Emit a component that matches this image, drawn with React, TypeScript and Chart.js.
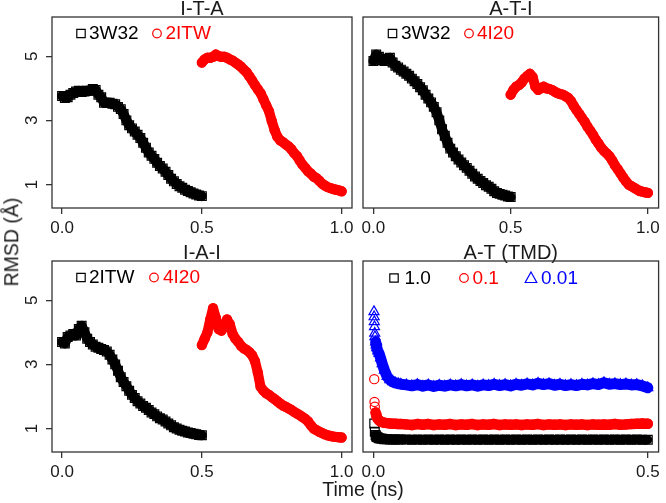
import React, { useEffect, useRef } from 'react';
import { Chart, registerables } from 'chart.js';

Chart.register(...registerables);

const FONT = '"Liberation Sans", Arial, Helvetica, sans-serif';
const W = 666;
const H = 503;

// ---------- data ----------
const tFirst = [0.00, 0.01, 0.02, 0.03, 0.04, 0.05, 0.06, 0.07, 0.08, 0.09, 0.10, 0.11, 0.12, 0.13, 0.14, 0.15, 0.16, 0.17, 0.18, 0.19, 0.20, 0.21, 0.22, 0.23, 0.24, 0.25, 0.26, 0.27, 0.28, 0.29, 0.30, 0.31, 0.32, 0.33, 0.34, 0.35, 0.36, 0.37, 0.38, 0.39, 0.40, 0.41, 0.42, 0.43, 0.44, 0.45, 0.46, 0.47, 0.48, 0.49, 0.50];
const tSecond = [0.50, 0.51, 0.52, 0.53, 0.54, 0.55, 0.56, 0.57, 0.58, 0.59, 0.60, 0.61, 0.62, 0.63, 0.64, 0.65, 0.66, 0.67, 0.68, 0.69, 0.70, 0.71, 0.72, 0.73, 0.74, 0.75, 0.76, 0.77, 0.78, 0.79, 0.80, 0.81, 0.82, 0.83, 0.84, 0.85, 0.86, 0.87, 0.88, 0.89, 0.90, 0.91, 0.92, 0.93, 0.94, 0.95, 0.96, 0.97, 0.98, 0.99, 1.00];

// I-T-A
const itaBlack3W32 = [3.76, 3.70, 3.72, 3.80, 3.85, 3.90, 3.92, 3.88, 3.90, 3.92, 3.92, 3.98, 3.95, 3.80, 3.72, 3.55, 3.55, 3.55, 3.52, 3.50, 3.42, 3.35, 3.20, 3.00, 2.85, 2.75, 2.65, 2.55, 2.45, 2.30, 2.15, 2.00, 1.90, 1.80, 1.68, 1.58, 1.50, 1.40, 1.30, 1.18, 1.10, 1.02, 0.95, 0.90, 0.84, 0.80, 0.76, 0.72, 0.69, 0.66, 0.64];
const itaRed2ITW = [4.80, 4.90, 4.95, 4.95, 4.98, 5.05, 5.00, 4.98, 4.98, 4.95, 4.90, 4.86, 4.80, 4.74, 4.67, 4.58, 4.50, 4.37, 4.24, 4.10, 3.97, 3.85, 3.66, 3.47, 3.29, 2.98, 2.70, 2.49, 2.38, 2.32, 2.25, 2.19, 2.10, 1.98, 1.89, 1.75, 1.62, 1.52, 1.41, 1.34, 1.25, 1.20, 1.12, 1.03, 0.97, 0.92, 0.89, 0.86, 0.84, 0.82, 0.79];

// A-T-I
const atiBlack3W32 = [4.85, 5.05, 4.98, 4.88, 4.85, 4.92, 4.95, 4.80, 4.70, 4.65, 4.58, 4.52, 4.45, 4.39, 4.30, 4.22, 4.13, 4.03, 3.94, 3.80, 3.68, 3.56, 3.42, 3.25, 3.00, 2.72, 2.52, 2.30, 2.12, 2.00, 1.88, 1.78, 1.69, 1.60, 1.52, 1.43, 1.34, 1.25, 1.18, 1.11, 1.05, 0.98, 0.93, 0.87, 0.79, 0.74, 0.71, 0.68, 0.66, 0.63, 0.61];
const atiRed4I20 = [3.80, 3.95, 4.05, 4.10, 4.18, 4.30, 4.38, 4.45, 4.35, 4.05, 3.95, 4.00, 4.05, 4.00, 3.98, 3.95, 3.90, 3.85, 3.82, 3.80, 3.75, 3.70, 3.60, 3.45, 3.32, 3.20, 3.07, 2.95, 2.80, 2.68, 2.55, 2.40, 2.28, 2.15, 2.05, 1.97, 1.88, 1.75, 1.60, 1.48, 1.35, 1.22, 1.10, 1.00, 0.95, 0.90, 0.85, 0.80, 0.78, 0.76, 0.74];

// I-A-I
const iaiBlack2ITW = [3.70, 3.65, 3.85, 3.90, 3.95, 3.90, 4.10, 4.20, 4.00, 3.80, 3.70, 3.62, 3.55, 3.52, 3.48, 3.45, 3.40, 3.30, 3.15, 3.00, 2.80, 2.60, 2.45, 2.32, 2.18, 2.05, 1.95, 1.85, 1.78, 1.70, 1.65, 1.58, 1.50, 1.45, 1.38, 1.32, 1.28, 1.22, 1.16, 1.10, 1.04, 1.00, 0.96, 0.93, 0.91, 0.88, 0.86, 0.84, 0.82, 0.80, 0.79];
const iaiRed4I20 = [3.60, 3.80, 4.00, 4.40, 4.75, 4.45, 4.10, 4.05, 4.20, 4.40, 4.25, 3.95, 3.80, 3.70, 3.58, 3.50, 3.45, 3.38, 3.28, 3.10, 2.75, 2.30, 2.18, 2.10, 2.05, 1.98, 1.92, 1.85, 1.78, 1.72, 1.68, 1.63, 1.58, 1.52, 1.47, 1.42, 1.36, 1.30, 1.22, 1.10, 1.00, 0.95, 0.90, 0.86, 0.82, 0.79, 0.77, 0.75, 0.74, 0.73, 0.72];

// A-T (TMD)
const tTmd = [0.004, 0.005, 0.006, 0.008, 0.010, 0.013, 0.016, 0.020, 0.025, 0.030, 0.035, 0.040, 0.045, 0.050, 0.06, 0.07, 0.08, 0.09, 0.10, 0.11, 0.12, 0.13, 0.14, 0.15, 0.16, 0.17, 0.18, 0.19, 0.20, 0.21, 0.22, 0.23, 0.24, 0.25, 0.26, 0.27, 0.28, 0.29, 0.30, 0.31, 0.32, 0.33, 0.34, 0.35, 0.36, 0.37, 0.38, 0.39, 0.40, 0.41, 0.42, 0.43, 0.44, 0.45, 0.46, 0.47, 0.48, 0.49, 0.50];
const tmdBlack10 = [0.80, 0.76, 0.74, 0.72, 0.70, 0.69, 0.68, 0.67, 0.67, 0.66, 0.66, 0.66, 0.66, 0.66, 0.66, 0.65, 0.66, 0.65, 0.66, 0.65, 0.66, 0.65, 0.66, 0.65, 0.66, 0.65, 0.66, 0.65, 0.66, 0.65, 0.66, 0.65, 0.66, 0.65, 0.66, 0.65, 0.66, 0.65, 0.66, 0.65, 0.66, 0.65, 0.66, 0.65, 0.66, 0.65, 0.66, 0.65, 0.66, 0.65, 0.66, 0.65, 0.66, 0.65, 0.66, 0.65, 0.66, 0.65, 0.65];
const tmdRed01 = [1.50, 1.42, 1.36, 1.30, 1.26, 1.22, 1.20, 1.18, 1.17, 1.16, 1.15, 1.15, 1.14, 1.14, 1.13, 1.11, 1.14, 1.12, 1.14, 1.11, 1.13, 1.12, 1.14, 1.11, 1.13, 1.12, 1.14, 1.11, 1.13, 1.12, 1.14, 1.11, 1.13, 1.12, 1.13, 1.11, 1.13, 1.12, 1.14, 1.11, 1.13, 1.12, 1.13, 1.11, 1.13, 1.12, 1.13, 1.11, 1.13, 1.12, 1.13, 1.12, 1.14, 1.12, 1.13, 1.14, 1.15, 1.16, 1.15];
const tmdBlue001 = [3.70, 3.60, 3.52, 3.42, 3.35, 3.20, 3.02, 2.82, 2.62, 2.52, 2.46, 2.42, 2.40, 2.38, 2.36, 2.33, 2.37, 2.32, 2.36, 2.31, 2.35, 2.32, 2.36, 2.33, 2.37, 2.33, 2.36, 2.32, 2.36, 2.34, 2.38, 2.34, 2.37, 2.33, 2.38, 2.35, 2.39, 2.36, 2.41, 2.37, 2.40, 2.35, 2.38, 2.34, 2.37, 2.34, 2.38, 2.36, 2.40, 2.37, 2.43, 2.38, 2.40, 2.37, 2.39, 2.36, 2.37, 2.33, 2.27];
// first frames (isolated markers at t ~ 0)
const tmdBlackStartT = [0.0015, 0.0025];
const tmdBlackStartV = [1.16, 0.90];
const tmdRedStartT = [0.0015, 0.002, 0.0025];
const tmdRedStartV = [2.54, 1.83, 1.68];
const tmdBlueStartT = [0.001, 0.0013, 0.0016, 0.002, 0.0024, 0.0028];
const tmdBlueStartV = [4.64, 4.48, 4.33, 4.17, 3.97, 3.86];

// ticks
const xTicksFull = [0, 0.5, 1.0];
const xTickLabelsFull = ['0.0', '0.5', '1.0'];
const xTicksHalf = [0, 0.5];
const xTickLabelsHalf = ['0.0', '0.5'];
const yTicks = [1, 3, 5];
const yTickLabels = ['1', '3', '5'];

// ---------- styling ----------
const BLACK = '#000000';
const RED = '#ff0000';
const BLUE = '#0000ff';
const TEXT = '#1a1a1a';
const AXIS = '#333333';
const YW = 45; // y-axis band width
const XH = 40; // x-axis band height
const TITLE_H = 16;

type Mark = 'rect' | 'circle' | 'triangle';
const markRadius: Record<Mark, number> = { rect: 6.2, circle: 4.6, triangle: 5.8 };

interface SeriesCfg {
  t: number[];
  v: number[];
  color: string;
  mark: Mark;
  line: boolean;
  width: number;
}
interface LegendItem { label: string; color: string; mark: Mark; dx: number; gap: number }
interface PanelCfg {
  title: string;
  box: { l: number; t: number; r: number; b: number };
  xMin: number;
  xMax: number;
  xTicks: number[];
  xLabels: string[];
  showY: boolean;
  series: SeriesCfg[];
  legend: LegendItem[];
  legendDy: number;
}

const Y_MIN = 0.27;
const Y_MAX = 6.22;

const panels: PanelCfg[] = [
  {
    title: 'I-T-A',
    box: { l: 52, t: 17, r: 352, b: 208 },
    xMin: -0.036, xMax: 1.037, xTicks: xTicksFull, xLabels: xTickLabelsFull, showY: true,
    series: [
      { t: tFirst, v: itaBlack3W32, color: BLACK, mark: 'rect', line: true, width: 10 },
      { t: tSecond, v: itaRed2ITW, color: RED, mark: 'circle', line: true, width: 10 },
    ],
    legend: [
      { label: '3W32', color: BLACK, mark: 'rect', dx: 29, gap: 8 },
      { label: '2ITW', color: RED, mark: 'circle', dx: 105, gap: 8.5 },
    ],
    legendDy: 16,
  },
  {
    title: 'A-T-I',
    box: { l: 363, t: 17, r: 664, b: 208 },
    xMin: -0.038, xMax: 1.039, xTicks: xTicksFull, xLabels: xTickLabelsFull, showY: false,
    series: [
      { t: tFirst, v: atiBlack3W32, color: BLACK, mark: 'rect', line: true, width: 10 },
      { t: tSecond, v: atiRed4I20, color: RED, mark: 'circle', line: true, width: 10 },
    ],
    legend: [
      { label: '3W32', color: BLACK, mark: 'rect', dx: 29.5, gap: 8.5 },
      { label: '4I20', color: RED, mark: 'circle', dx: 106, gap: 8 },
    ],
    legendDy: 16,
  },
  {
    title: 'I-A-I',
    box: { l: 52, t: 261, r: 352, b: 452 },
    xMin: -0.036, xMax: 1.037, xTicks: xTicksFull, xLabels: xTickLabelsFull, showY: true,
    series: [
      { t: tFirst, v: iaiBlack2ITW, color: BLACK, mark: 'rect', line: true, width: 10 },
      { t: tSecond, v: iaiRed4I20, color: RED, mark: 'circle', line: true, width: 10 },
    ],
    legend: [
      { label: '2ITW', color: BLACK, mark: 'rect', dx: 29, gap: 8 },
      { label: '4I20', color: RED, mark: 'circle', dx: 102, gap: 9 },
    ],
    legendDy: 16,
  },
  {
    title: 'A-T (TMD)',
    box: { l: 363, t: 261, r: 664, b: 452 },
    xMin: -0.019, xMax: 0.5197, xTicks: xTicksHalf, xLabels: xTickLabelsHalf, showY: false,
    series: [
      { t: tTmd, v: tmdBlack10, color: BLACK, mark: 'rect', line: true, width: 9 },
      { t: tTmd, v: tmdRed01, color: RED, mark: 'circle', line: true, width: 10.5 },
      { t: tTmd, v: tmdBlue001, color: BLUE, mark: 'triangle', line: true, width: 11 },
      { t: tmdBlackStartT, v: tmdBlackStartV, color: BLACK, mark: 'rect', line: false, width: 0 },
      { t: tmdRedStartT, v: tmdRedStartV, color: RED, mark: 'circle', line: false, width: 0 },
      { t: tmdBlueStartT, v: tmdBlueStartV, color: BLUE, mark: 'triangle', line: false, width: 0 },
    ],
    legend: [
      { label: '1.0', color: BLACK, mark: 'rect', dx: 31, gap: 10.5 },
      { label: '0.1', color: RED, mark: 'circle', dx: 101, gap: 8.5 },
      { label: '0.01', color: BLUE, mark: 'triangle', dx: 168, gap: 10 },
    ],
    legendDy: 16.5,
  },
];

// ---------- plugins ----------
const boxPlugin = {
  id: 'rbox',
  afterDraw(chart: any) {
    const { ctx, chartArea: a } = chart;
    ctx.save();
    ctx.strokeStyle = AXIS;
    ctx.lineWidth = 1.3;
    ctx.strokeRect(a.left, a.top, a.right - a.left, a.bottom - a.top);
    ctx.restore();
  },
};

function drawMark(ctx: CanvasRenderingContext2D, mark: Mark, cx: number, cy: number) {
  ctx.beginPath();
  if (mark === 'rect') {
    ctx.rect(cx - 4.2, cy - 4.2, 8.4, 8.4);
  } else if (mark === 'circle') {
    ctx.arc(cx, cy, 4.3, 0, Math.PI * 2);
  } else {
    ctx.moveTo(cx, cy - 6);
    ctx.lineTo(cx + 5.8, cy + 4.5);
    ctx.lineTo(cx - 5.8, cy + 4.5);
    ctx.closePath();
  }
  ctx.stroke();
}

const legendPlugin = {
  id: 'rlegend',
  afterDraw(chart: any, _args: any, opts: any) {
    const { ctx, chartArea } = chart;
    const items: LegendItem[] = opts.items || [];
    const y = chartArea.top + opts.dy;
    ctx.save();
    ctx.font = `19px ${FONT}`;
    ctx.textBaseline = 'middle';
    ctx.textAlign = 'left';
    for (const it of items) {
      const cx = chartArea.left + it.dx;
      ctx.strokeStyle = it.color;
      ctx.lineWidth = 1.2;
      drawMark(ctx, it.mark, cx, y + 0.5);
      ctx.fillStyle = it.color;
      ctx.fillText(it.label, cx + it.gap, y + 1);
    }
    ctx.restore();
  },
};

function makeConfig(p: PanelCfg): any {
  const datasets = p.series.map((s) => ({
    data: s.t.map((t, i) => ({ x: t, y: s.v[i] })),
    showLine: s.line,
    borderColor: s.color,
    backgroundColor: s.color,
    borderWidth: s.width,
    borderJoinStyle: 'round',
    borderCapStyle: 'round',
    tension: 0,
    pointStyle: s.mark,
    pointRadius: markRadius[s.mark],
    pointBorderColor: s.color,
    pointBackgroundColor: 'rgba(0,0,0,0)',
    pointBorderWidth: 1.2,
    pointHoverRadius: markRadius[s.mark],
  }));

  return {
    type: 'scatter',
    data: { datasets },
    plugins: [boxPlugin, legendPlugin],
    options: {
      animation: false,
      responsive: false,
      devicePixelRatio: 1,
      events: [],
      layout: {
        padding: {
          left: p.box.l - YW,
          top: p.box.t - TITLE_H,
          right: W - p.box.r,
          bottom: H - p.box.b - XH,
        },
      },
      plugins: {
        legend: { display: false },
        tooltip: { enabled: false },
        title: {
          display: true,
          text: p.title,
          fullSize: false,
          padding: 0,
          color: TEXT,
          font: { family: FONT, size: 20, weight: 'normal', lineHeight: 0.8 },
        },
        rlegend: { items: p.legend, dy: p.legendDy },
      },
      scales: {
        x: {
          type: 'linear',
          min: p.xMin,
          max: p.xMax,
          afterBuildTicks: (s: any) => {
            s.ticks = p.xTicks.map((v) => ({ value: v }));
          },
          afterFit: (s: any) => {
            s.height = XH;
            s.paddingLeft = 0;
            s.paddingRight = 0;
          },
          ticks: {
            autoSkip: false,
            maxRotation: 0,
            minRotation: 0,
            padding: 4,
            color: TEXT,
            font: { family: FONT, size: 17, lineHeight: 1.2 },
            callback: (_v: any, i: number) => p.xLabels[i],
          },
          grid: {
            display: true,
            drawOnChartArea: false,
            drawTicks: true,
            tickLength: 6,
            color: AXIS,
            lineWidth: 1.3,
          },
          border: { display: false },
        },
        y: {
          type: 'linear',
          min: Y_MIN,
          max: Y_MAX,
          afterBuildTicks: (s: any) => {
            s.ticks = yTicks.map((v) => ({ value: v }));
          },
          afterFit: (s: any) => {
            s.width = YW;
            s.paddingTop = 0;
            s.paddingBottom = 0;
          },
          ticks: {
            display: p.showY,
            autoSkip: false,
            minRotation: 90,
            maxRotation: 90,
            crossAlign: 'center',
            padding: 9,
            color: TEXT,
            font: { family: FONT, size: 17, lineHeight: 1.2 },
            callback: (_v: any, i: number) => yTickLabels[i],
          },
          grid: {
            display: p.showY,
            drawOnChartArea: false,
            drawTicks: true,
            tickLength: 6,
            color: AXIS,
            lineWidth: 1.3,
          },
          border: { display: false },
        },
      },
    },
  };
}

function Panel({ cfg }: { cfg: PanelCfg }) {
  const ref = useRef<HTMLCanvasElement | null>(null);
  useEffect(() => {
    if (!ref.current) return;
    const chart = new Chart(ref.current, makeConfig(cfg));
    return () => chart.destroy();
  }, [cfg]);
  return (
    <canvas
      ref={ref}
      width={W}
      height={H}
      style={{ position: 'absolute', left: 0, top: 0, width: W, height: H }}
    />
  );
}

export default function App() {
  const label: React.CSSProperties = {
    position: 'absolute',
    fontFamily: FONT,
    fontSize: 19.5,
    lineHeight: 1,
    whiteSpace: 'nowrap',
    color: TEXT,
  };
  return (
    <div
      style={{
        position: 'absolute',
        left: 0,
        top: 0,
        width: W,
        height: H,
        background: '#ffffff',
        overflow: 'hidden',
      }}
    >
      {panels.map((p) => (
        <Panel key={p.title} cfg={p} />
      ))}
      <div style={{ ...label, left: 363, top: 490, transform: 'translate(-50%, -50%)' }}>Time (ns)</div>
      <div style={{ ...label, left: 12, top: 242, transform: 'translate(-50%, -50%) rotate(-90deg)' }}>RMSD (Å)</div>
    </div>
  );
}
